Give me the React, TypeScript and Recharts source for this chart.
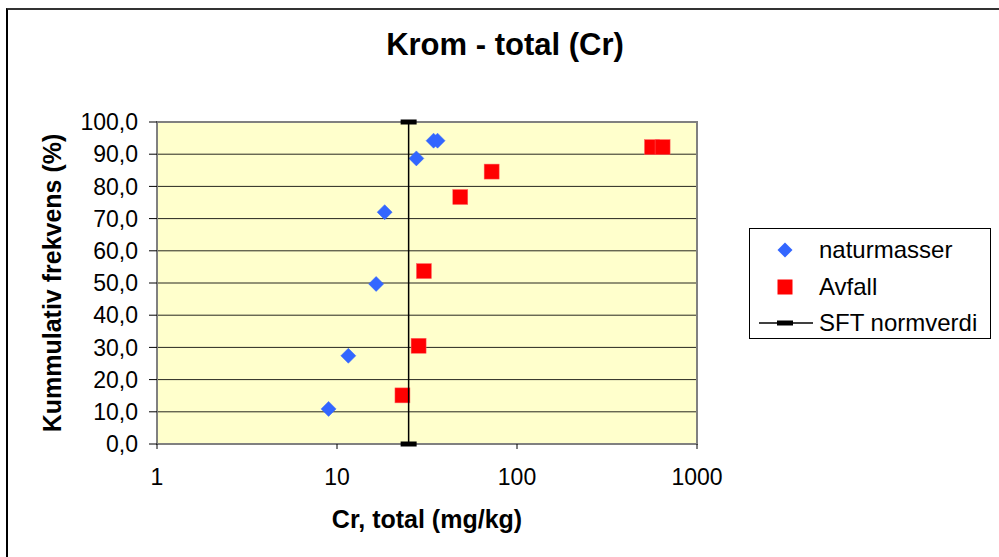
import React from 'react';
import {
  ScatterChart, Scatter, XAxis, YAxis, CartesianGrid, Legend, ReferenceArea,
} from 'recharts';

const naturX = [8.98, 11.56, 16.5, 18.4, 27.6, 34.4, 36.2];
const naturY = [10.9, 27.4, 49.7, 72.0, 88.7, 94.2, 94.2];
const avfallX = [23.1, 28.4, 30.4, 48.4, 72.3, 562, 644];
const avfallY = [15.1, 30.5, 53.7, 76.7, 84.6, 92.2, 92.2];
const sftX = [25, 25];
const sftY = [0, 100];
const xTicks = [1, 10, 100, 1000];
const yTicks = [0, 10, 20, 30, 40, 50, 60, 70, 80, 90, 100];
const seriesNames = ['naturmasser', 'Avfall', 'SFT normverdi'];

const zip = (xs: number[], ys: number[]) => xs.map((x, i) => ({ x, y: ys[i] }));
const naturData = zip(naturX, naturY);
const avfallData = zip(avfallX, avfallY);
const sftData = zip(sftX, sftY);

const FONT = '"Liberation Sans", Arial, sans-serif';
const BLUE = '#3366FF';
const RED = '#FF0000';

const Diamond = (props: any) => {
  const { cx, cy } = props;
  if (cx == null || cy == null) return null;
  const r = 7.5;
  return <polygon points={`${cx},${cy - r} ${cx + r},${cy} ${cx},${cy + r} ${cx - r},${cy}`} fill={BLUE} stroke={BLUE} strokeWidth={0.5} />;
};
const Square = (props: any) => {
  const { cx, cy } = props;
  if (cx == null || cy == null) return null;
  return <rect x={cx - 7.5} y={cy - 7.5} width={15} height={15} fill={RED} stroke="#FF6666" strokeWidth={0.5} />;
};
const Dash = (props: any) => {
  const { cx, cy } = props;
  if (cx == null || cy == null) return null;
  return <rect x={cx - 8} y={cy - 2.5} width={16} height={5} fill="#000" />;
};

const LegendContent = (props: any) => {
  const payload = props.payload || [];
  const rowTops = [21, 58, 94];
  const ordered = seriesNames.map((n) => payload.find((p: any) => p.value === n) || { value: n });
  return (
    <div style={{ position: 'relative', width: 240, height: 109, border: '1px solid #000', background: '#fff', fontFamily: FONT }}>
      {ordered.map((p: any, i: number) => (
        <div key={i} style={{ position: 'absolute', left: 0, top: rowTops[i] - 14, height: 28, width: 240 }}>
          <svg width={70} height={28} style={{ position: 'absolute', left: 0, top: 0 }}>
            {i === 0 && <polygon points="35,6.5 42.5,14 35,21.5 27.5,14" fill={BLUE} />}
            {i === 1 && <rect x={27.5} y={6.5} width={15} height={15} fill={RED} />}
            {i === 2 && (
              <g>
                <line x1={9} y1={14} x2={63} y2={14} stroke="#000" strokeWidth={1.5} />
                <rect x={27} y={11.5} width={16} height={5} fill="#000" />
              </g>
            )}
          </svg>
          <span style={{ position: 'absolute', left: 69, top: 0, fontSize: 24, lineHeight: '28px', color: '#000', whiteSpace: 'nowrap' }}>{p.value}</span>
        </div>
      ))}
    </div>
  );
};

const YLabel = (props: any) => {
  const vb = props.viewBox || { x: 0, y: 0, width: 0, height: 0 };
  const x = 52;
  const y = vb.y + vb.height / 2;
  return (
    <text x={x} y={y} transform={`rotate(-90, ${x}, ${y})`} textAnchor="middle" dominantBaseline="central"
      fontFamily={FONT} fontSize={25} fontWeight="bold" fill="#000">Kummulativ frekvens (%)</text>
  );
};

export default function App() {
  return (
    <div style={{ position: 'absolute', left: 0, top: 0, width: 999, height: 557, overflow: 'hidden', background: '#fff' }}>
      <div style={{ position: 'absolute', left: 6, top: 8, width: 1200, height: 800, borderTop: '2px solid #333', borderLeft: '2px solid #000' }} />
      <div style={{ position: 'absolute', left: 0, top: 30, width: 1010, textAlign: 'center', fontFamily: FONT, fontSize: 31, fontWeight: 'bold', lineHeight: '29px', color: '#000' }}>
        Krom - total (Cr)
      </div>
      <div style={{ position: 'absolute', left: 0, top: 0 }}>
        <ScatterChart width={999} height={557} margin={{ top: 122, right: 302, left: 0, bottom: 0 }}>
          <CartesianGrid horizontal vertical={false} stroke="#000" strokeOpacity={0.85} fill="#FFFFCC" fillOpacity={1} />
          <XAxis
            type="number" dataKey="x" scale="log" domain={[1, 1000]} ticks={xTicks} allowDataOverflow
            height={113} axisLine={false} tickLine={{ stroke: '#000' }} tickSize={5} tickMargin={20}
            tick={{ fill: '#000', fontSize: 23, fontFamily: FONT }}
            label={{ value: 'Cr, total (mg/kg)', position: 'insideTop', offset: 66, fontSize: 25, fontWeight: 'bold', fill: '#000', fontFamily: FONT }}
          />
          <YAxis
            type="number" dataKey="y" domain={[0, 100]} ticks={yTicks} width={157} interval={0}
            axisLine={false} tickLine={{ stroke: '#000' }} tickSize={8} tickMargin={11}
            tick={{ fill: '#000', fontSize: 23, fontFamily: FONT }}
            tickFormatter={(v: number) => v.toFixed(1).replace('.', ',')}
            label={{ content: YLabel }}
          />
          <ReferenceArea x1={1} x2={1000} y1={0} y2={100} fill="none" stroke="#808080" strokeWidth={2} ifOverflow="visible" />
          <Scatter name="naturmasser" data={naturData} fill={BLUE} shape={Diamond} isAnimationActive={false} />
          <Scatter name="Avfall" data={avfallData} fill={RED} shape={Square} isAnimationActive={false} />
          <Scatter name="SFT normverdi" data={sftData} fill="#000" line={{ stroke: '#000', strokeWidth: 1.5 }} shape={Dash} isAnimationActive={false} />
          <Legend
            layout="vertical"
            align="center"
            verticalAlign="middle"
            content={LegendContent}
            wrapperStyle={{ position: 'absolute', left: 749, top: 228, width: 242, height: 111, bottom: 'auto', right: 'auto' }}
          />
        </ScatterChart>
      </div>
    </div>
  );
}
